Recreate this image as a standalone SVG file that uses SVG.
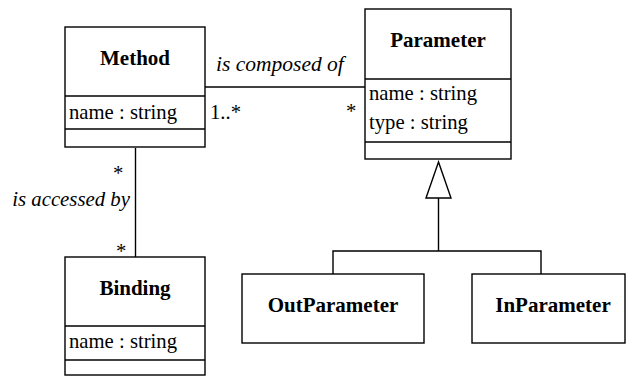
<svg xmlns="http://www.w3.org/2000/svg" width="626" height="376" viewBox="0 0 626 376">
<style>
.box{fill:#fff;stroke:#000;stroke-width:1.4}
.ln{fill:none;stroke:#000;stroke-width:1.4}
.t{font-family:"Liberation Serif","Times New Roman",serif;font-size:20.7px;fill:#000}
.b{font-family:"Liberation Serif","Times New Roman",serif;font-size:21px;font-weight:bold;fill:#000;text-anchor:middle}
.i{font-family:"Liberation Serif","Times New Roman",serif;font-style:italic;fill:#000}
</style>
<rect width="626" height="376" fill="#fff"/>
<g id="connectors">
<line class="ln" x1="205" y1="87" x2="365" y2="87"/>
<line class="ln" x1="135.5" y1="148" x2="135.5" y2="257"/>
<polygon class="box" points="438.5,162 426,198 451,198"/>
<polyline class="ln" points="438.5,198 438.5,251"/>
<polyline class="ln" points="333,274 333,251 541,251 541,274"/>
<text class="i" x="216" y="71" font-size="21.5">is composed of</text>
<text class="t" x="210" y="119">1..*</text>
<text class="t" x="346" y="118">*</text>
<text class="i" x="130" y="206" text-anchor="end" font-size="20.8">is accessed by</text>
<text class="t" x="113" y="180">*</text>
<text class="t" x="116" y="258">*</text>
</g>
<g id="method">
<rect class="box" x="65" y="27" width="140" height="120"/>
<line class="ln" x1="65" y1="96" x2="205" y2="96"/>
<line class="ln" x1="65" y1="129" x2="205" y2="129"/>
<text class="b" x="135" y="65">Method</text>
<text class="t" x="69" y="119">name : string</text>
</g>
<g id="parameter">
<rect class="box" x="365" y="9" width="146" height="150"/>
<line class="ln" x1="365" y1="79" x2="511" y2="79"/>
<line class="ln" x1="365" y1="142" x2="511" y2="142"/>
<text class="b" x="438" y="47">Parameter</text>
<text class="t" x="369" y="100">name : string</text>
<text class="t" x="369" y="129">type : string</text>
</g>
<g id="binding">
<rect class="box" x="65" y="257" width="140" height="118"/>
<line class="ln" x1="65" y1="326" x2="205" y2="326"/>
<line class="ln" x1="65" y1="360" x2="205" y2="360"/>
<text class="b" x="135" y="295">Binding</text>
<text class="t" x="69" y="348">name : string</text>
</g>
<g id="outparameter">
<rect class="box" x="242" y="274" width="182" height="69"/>
<text class="b" x="333" y="312">OutParameter</text>
</g>
<g id="inparameter">
<rect class="box" x="472" y="274" width="153" height="69"/>
<text class="b" x="553" y="312">InParameter</text>
</g>
</svg>
